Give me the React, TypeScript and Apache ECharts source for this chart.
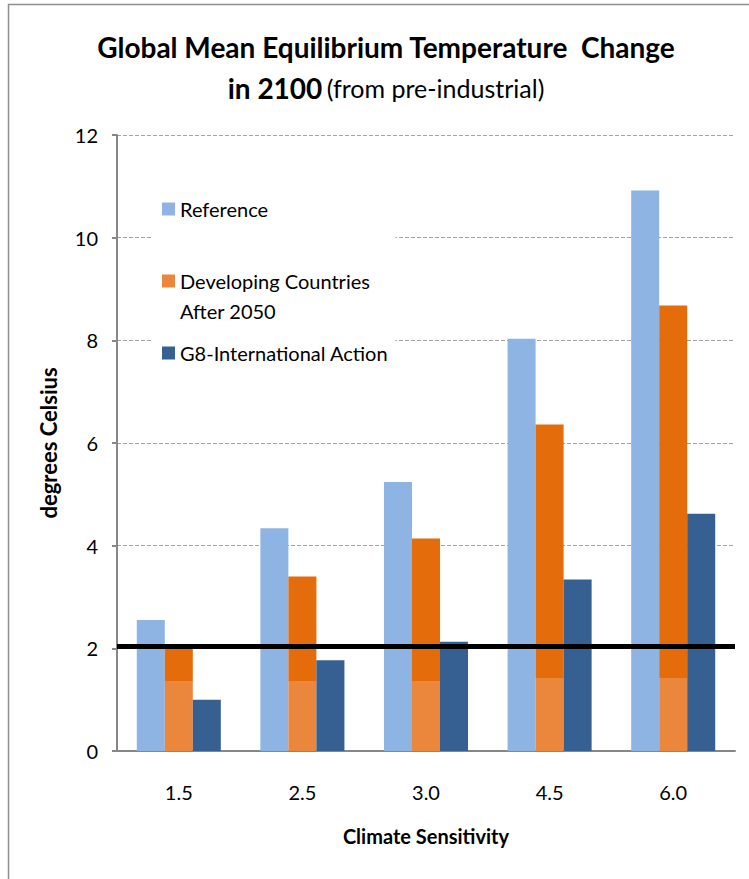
import { useEffect, useRef } from "react";
import * as echarts from "echarts";

// Climate sensitivity cases on the x axis
const categories = ["1.5", "2.5", "3.0", "4.5", "6.0"];

// Equilibrium temperature change in 2100 (degrees Celsius)
const referenceValues = [2.55, 4.34, 5.24, 8.03, 10.92];
const developingValues = [2.0, 3.4, 4.14, 6.36, 8.68];
// lighter lower segment of the "Developing Countries" bars
const developingBase = [1.35, 1.35, 1.35, 1.42, 1.42];
const g8Values = [1.0, 1.77, 2.13, 3.34, 4.62];

// the 2-degree threshold line
const thresholdValue = 2.05;

const yMin = 0;
const yMax = 12;
const yStep = 2;

const seriesNames = [
  "Reference",
  "Developing Countries After 2050",
  "G8-International Action",
];

const FONT = "Lato, 'Open Sans', sans-serif";

export default function App() {
  const ref = useRef<HTMLDivElement>(null);

  useEffect(() => {
    if (!ref.current) return;
    const chart = echarts.init(ref.current, undefined, { renderer: "svg" });

    const developingUpper = developingValues.map(
      (v, i) => +(v - developingBase[i]).toFixed(2)
    );

    chart.setOption({
      animation: false,
      backgroundColor: "#ffffff",
      textStyle: { fontFamily: FONT },
      title: {
        left: 381,
        top: 21,
        textAlign: "center",
        text:
          "{b|Global Mean Equilibrium Temperature  Change}\n{b|in 2100} {n|(from pre-industrial)}",
        textStyle: {
          rich: {
            b: {
              fontFamily: FONT,
              fontWeight: "bold",
              fontSize: 28,
              lineHeight: 41,
              color: "#000",
            },
            n: {
              fontFamily: FONT,
              fontWeight: "normal",
              fontSize: 25,
              lineHeight: 41,
              color: "#000",
            },
          },
        },
      },
      graphic: [
        {
          type: "rect",
          z: -10,
          silent: true,
          shape: { x: 8.5, y: 4.5, width: 800, height: 900 },
          style: { fill: "none", stroke: "#8f8f8f", lineWidth: 1.5 },
        },
      ],
      legend: {
        data: seriesNames,
        orient: "vertical",
        left: 152,
        top: 186,
        padding: [8, 7, 8, 10],
        itemWidth: 13,
        itemHeight: 13,
        itemGap: 12,
        icon: "rect",
        backgroundColor: "#ffffff",
        z: 10,
        formatter: (name: string) =>
          name === "Developing Countries After 2050"
            ? "\nDeveloping Countries\nAfter 2050"
            : name,
        textStyle: {
          fontFamily: FONT,
          fontSize: 20,
          lineHeight: 30,
          color: "#000",
        },
      },
      grid: { left: 117, right: 14, top: 135, bottom: 128 },
      xAxis: {
        type: "category",
        data: categories,
        name: "Climate Sensitivity",
        nameLocation: "middle",
        nameGap: 75,
        nameTextStyle: {
          fontFamily: FONT,
          fontWeight: "bold",
          fontSize: 20,
          color: "#000",
          verticalAlign: "top",
        },
        axisLine: { lineStyle: { color: "#878787", width: 2 } },
        axisTick: { show: false },
        axisLabel: {
          margin: 31,
          fontFamily: FONT,
          fontSize: 20,
          color: "#000",
        },
      },
      yAxis: {
        type: "value",
        min: yMin,
        max: yMax,
        interval: yStep,
        name: "degrees Celsius",
        nameLocation: "middle",
        nameGap: 58,
        nameTextStyle: {
          fontFamily: FONT,
          fontWeight: "bold",
          fontSize: 22,
          color: "#000",
        },
        axisLine: { show: true, lineStyle: { color: "#878787", width: 2 } },
        axisTick: {
          show: true,
          length: 5,
          lineStyle: { color: "#878787", width: 2 },
        },
        axisLabel: {
          margin: 19,
          fontFamily: FONT,
          fontSize: 20,
          color: "#000",
        },
        splitLine: {
          show: true,
          lineStyle: { color: "#a3a3a3", width: 1, type: [4, 2] },
        },
      },
      series: [
        {
          name: seriesNames[0],
          type: "bar",
          data: referenceValues,
          barGap: "0%",
          barCategoryGap: "32%",
          itemStyle: { color: "#8EB4E3" },
        },
        {
          name: seriesNames[1],
          type: "bar",
          stack: "developing",
          data: developingBase,
          itemStyle: { color: "#EA873C" },
        },
        {
          name: "developingUpper",
          type: "bar",
          stack: "developing",
          data: developingUpper,
          itemStyle: { color: "#E46C0A" },
        },
        {
          name: seriesNames[2],
          type: "bar",
          data: g8Values,
          itemStyle: { color: "#376092" },
          markLine: {
            silent: true,
            symbol: "none",
            z: 6,
            label: { show: false },
            lineStyle: { color: "#000", width: 5, type: "solid" },
            data: [{ yAxis: thresholdValue }],
          },
        },
      ],
    });

    return () => chart.dispose();
  }, []);

  return (
    <div
      ref={ref}
      style={{ position: "fixed", left: 0, top: 0, width: 749, height: 879 }}
    />
  );
}
